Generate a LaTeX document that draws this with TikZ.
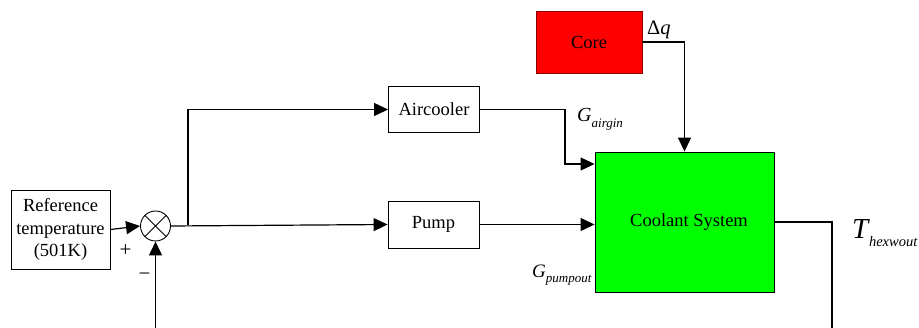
\documentclass[tikz,border=0pt]{standalone}
\usepackage{fontspec}
\setmainfont{Liberation Serif}
\usetikzlibrary{arrows.meta}
\begin{document}
\begin{tikzpicture}[x=1pt,y=-1pt,
  blk/.style={draw, line width=0.9pt, inner sep=0pt, font=\fontsize{18.5}{22.5}\selectfont, align=center},
  conn/.style={line width=1.2pt},
  arr/.style={conn, -{Triangle[length=14pt,width=13pt]}},
  lbl/.style={inner sep=0pt, anchor=base west}]
\useasboundingbox (0,0) rectangle (919,328);
% blocks
\node[blk, minimum width=99pt, minimum height=79pt] (ref) at (60.5,229.5) {Reference\\temperature\\(501K)};
\node[draw, line width=0.9pt, circle, minimum size=30pt, inner sep=0pt,
  path picture={\draw[line width=0.9pt] (path picture bounding box.north west) -- (path picture bounding box.south east)
                 (path picture bounding box.north east) -- (path picture bounding box.south west);}] (sum) at (155.5,226) {};
\node[blk, minimum width=91pt, minimum height=46pt] (air) at (434,109.5) {Aircooler};
\node[blk, minimum width=91pt, minimum height=47pt] (pump) at (433.5,224.5) {Pump};
\node[blk, fill=red, draw=red!55!black, minimum width=106pt, minimum height=62pt] (core) at (589,42) {Core};
\node[blk, fill=green, minimum width=179pt, minimum height=140pt] (cool) at (684.5,222) {\hspace*{9pt}Coolant System};
% auxiliary coordinates
\coordinate (j) at (188,225.5);
\coordinate (a1) at (565,164);
\coordinate (o1) at (832,222);
\coordinate (o2) at (832,330);
\coordinate (fb) at (155.5,330);
% connectors
\draw[arr] (ref.east) -- (sum.west);
\draw[arr] (sum.east) -- (pump.west);
\draw[arr] (j) |- (air.west);
\draw[arr] (air.east) -| (a1) -- (cool.west |- a1);
\draw[arr] (pump.east) -- (cool.west |- pump.east);
\draw[arr] (core.east) -| (cool.north);
\draw[conn] (cool.east) -- (o1) -- (o2);
\draw[arr] (fb) -- (sum.south);
% labels
\node[inner sep=0pt, font=\fontsize{21}{21}\selectfont] (plus) at (125.5,251) {+};
\node[inner sep=0pt, font=\fontsize{21}{21}\selectfont] (minus) at (144.5,277) {−};
\node[lbl] (dq) at (647,35) {\fontsize{20.5}{20.5}\selectfont Δ\textit{q}};
\node[lbl] (gair) at (577,122) {\fontsize{20}{20}\selectfont\textit{G}\raisebox{-6pt}{\fontsize{13}{13}\selectfont\textit{airgin}}};
\node[lbl] (gpump) at (532,278) {\fontsize{19}{19}\selectfont\textit{G}\raisebox{-5pt}{\fontsize{13}{13}\selectfont\textit{pumpout}}};
\node[lbl] (thex) at (852,239) {\fontsize{29}{29}\selectfont\textit{T}\kern-1pt\raisebox{-8pt}{\fontsize{14.5}{14.5}\selectfont\textit{hexwout}}};
\end{tikzpicture}
\end{document}
